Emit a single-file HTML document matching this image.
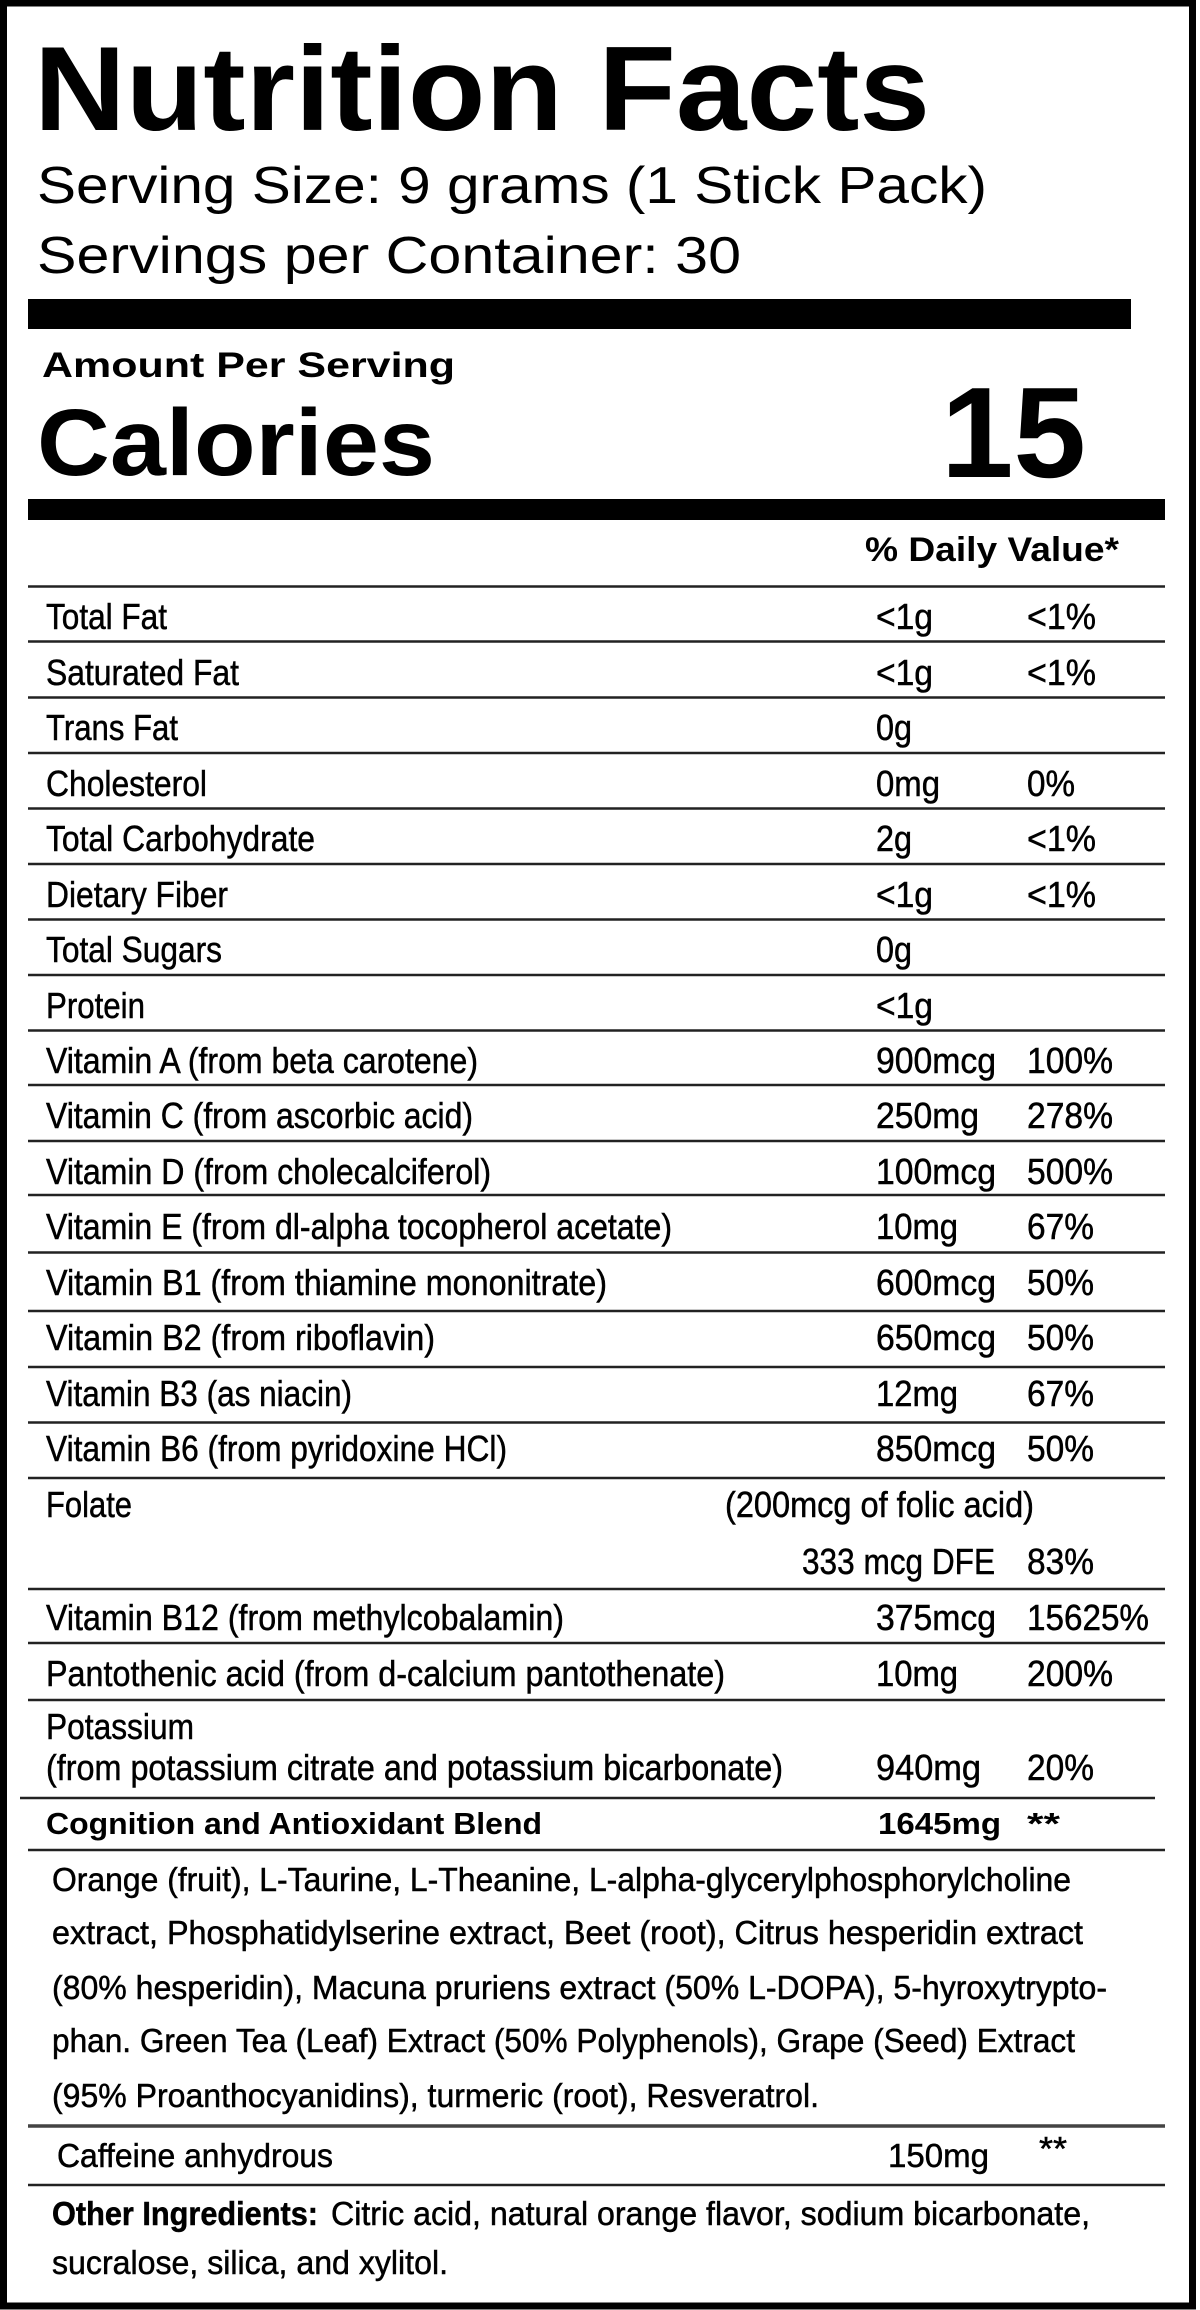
<!DOCTYPE html>
<html><head><meta charset="utf-8"><style>
html,body{margin:0;padding:0;background:#fff;}
svg{display:block;}
text{font-family:"Liberation Sans",Arial,sans-serif;fill:#000;}
.b{font-weight:bold;}
.r{font-size:36px;stroke:#000;stroke-width:0.5px;}
.i{font-size:33px;stroke:#000;stroke-width:0.5px;}
</style></head><body>
<svg width="1200" height="2310" viewBox="0 0 1200 2310" xmlns="http://www.w3.org/2000/svg">
<rect x="0" y="0" width="1200" height="2310" fill="#fff"/>
<rect x="3.5" y="3" width="1189" height="2303" fill="none" stroke="#000" stroke-width="7"/>

<text class="b" x="34" y="130" font-size="120" textLength="896" lengthAdjust="spacingAndGlyphs">Nutrition Facts</text>
<text x="37" y="203" font-size="52" textLength="950" lengthAdjust="spacingAndGlyphs">Serving Size: 9 grams (1 Stick Pack)</text>
<text x="37" y="273" font-size="52" textLength="704" lengthAdjust="spacingAndGlyphs">Servings per Container: 30</text>
<rect x="28" y="299" width="1103" height="30" fill="#000"/>
<text class="b" x="42" y="377" font-size="35" textLength="413" lengthAdjust="spacingAndGlyphs">Amount Per Serving</text>
<text class="b" x="37" y="475" font-size="95" textLength="398" lengthAdjust="spacingAndGlyphs">Calories</text>
<text class="b" x="941" y="477" font-size="129" textLength="145" lengthAdjust="spacingAndGlyphs">15</text>
<rect x="28" y="499" width="1137" height="21" fill="#000"/>
<text class="b" x="865" y="561" font-size="34" textLength="254" lengthAdjust="spacingAndGlyphs">% Daily Value*</text>

<g stroke="#222" stroke-width="2.5">
<line x1="28" y1="586.5" x2="1165" y2="586.5"/>
<line x1="28" y1="641.5" x2="1165" y2="641.5"/>
<line x1="28" y1="697.5" x2="1165" y2="697.5"/>
<line x1="28" y1="753" x2="1165" y2="753"/>
<line x1="28" y1="808.5" x2="1165" y2="808.5"/>
<line x1="28" y1="864" x2="1165" y2="864"/>
<line x1="28" y1="919.5" x2="1165" y2="919.5"/>
<line x1="28" y1="975" x2="1165" y2="975"/>
<line x1="28" y1="1030.5" x2="1165" y2="1030.5"/>
<line x1="28" y1="1085" x2="1165" y2="1085"/>
<line x1="28" y1="1141" x2="1165" y2="1141"/>
<line x1="28" y1="1195" x2="1165" y2="1195"/>
<line x1="28" y1="1252.5" x2="1165" y2="1252.5"/>
<line x1="28" y1="1311" x2="1165" y2="1311"/>
<line x1="28" y1="1367" x2="1165" y2="1367"/>
<line x1="28" y1="1422.5" x2="1165" y2="1422.5"/>
<line x1="28" y1="1478" x2="1165" y2="1478"/>
<line x1="28" y1="1589" x2="1165" y2="1589"/>
<line x1="28" y1="1643" x2="1165" y2="1643"/>
<line x1="28" y1="1700" x2="1165" y2="1700"/>
<line x1="20" y1="1798" x2="1155" y2="1798"/>
<line x1="28" y1="1850" x2="1165" y2="1850"/>
<line x1="28" y1="2126" x2="1165" y2="2126" stroke-width="3.5" stroke="#444"/>
<line x1="28" y1="2185" x2="1165" y2="2185"/>
</g>

<g class="r">
<text x="46" y="629" textLength="121" lengthAdjust="spacingAndGlyphs">Total Fat</text>
<text x="876" y="629" textLength="57" lengthAdjust="spacingAndGlyphs">&lt;1g</text>
<text x="1027" y="629" textLength="69" lengthAdjust="spacingAndGlyphs">&lt;1%</text>

<text x="46" y="685" textLength="193" lengthAdjust="spacingAndGlyphs">Saturated Fat</text>
<text x="876" y="685" textLength="57" lengthAdjust="spacingAndGlyphs">&lt;1g</text>
<text x="1027" y="685" textLength="69" lengthAdjust="spacingAndGlyphs">&lt;1%</text>

<text x="46" y="740" textLength="132" lengthAdjust="spacingAndGlyphs">Trans Fat</text>
<text x="876" y="740" textLength="36" lengthAdjust="spacingAndGlyphs">0g</text>

<text x="46" y="796" textLength="161" lengthAdjust="spacingAndGlyphs">Cholesterol</text>
<text x="876" y="796" textLength="64" lengthAdjust="spacingAndGlyphs">0mg</text>
<text x="1027" y="796" textLength="48" lengthAdjust="spacingAndGlyphs">0%</text>

<text x="46" y="851" textLength="269" lengthAdjust="spacingAndGlyphs">Total Carbohydrate</text>
<text x="876" y="851" textLength="36" lengthAdjust="spacingAndGlyphs">2g</text>
<text x="1027" y="851" textLength="69" lengthAdjust="spacingAndGlyphs">&lt;1%</text>

<text x="46" y="907" textLength="182" lengthAdjust="spacingAndGlyphs">Dietary Fiber</text>
<text x="876" y="907" textLength="57" lengthAdjust="spacingAndGlyphs">&lt;1g</text>
<text x="1027" y="907" textLength="69" lengthAdjust="spacingAndGlyphs">&lt;1%</text>

<text x="46" y="962" textLength="176" lengthAdjust="spacingAndGlyphs">Total Sugars</text>
<text x="876" y="962" textLength="36" lengthAdjust="spacingAndGlyphs">0g</text>

<text x="46" y="1018" textLength="99" lengthAdjust="spacingAndGlyphs">Protein</text>
<text x="876" y="1018" textLength="57" lengthAdjust="spacingAndGlyphs">&lt;1g</text>

<text x="46" y="1073" textLength="432" lengthAdjust="spacingAndGlyphs">Vitamin A (from beta carotene)</text>
<text x="876" y="1073" textLength="120" lengthAdjust="spacingAndGlyphs">900mcg</text>
<text x="1027" y="1073" textLength="86" lengthAdjust="spacingAndGlyphs">100%</text>

<text x="46" y="1128" textLength="427" lengthAdjust="spacingAndGlyphs">Vitamin C (from ascorbic acid)</text>
<text x="876" y="1128" textLength="103" lengthAdjust="spacingAndGlyphs">250mg</text>
<text x="1027" y="1128" textLength="86" lengthAdjust="spacingAndGlyphs">278%</text>

<text x="46" y="1184" textLength="445" lengthAdjust="spacingAndGlyphs">Vitamin D (from cholecalciferol)</text>
<text x="876" y="1184" textLength="120" lengthAdjust="spacingAndGlyphs">100mcg</text>
<text x="1027" y="1184" textLength="86" lengthAdjust="spacingAndGlyphs">500%</text>

<text x="46" y="1239" textLength="626" lengthAdjust="spacingAndGlyphs">Vitamin E (from dl-alpha tocopherol acetate)</text>
<text x="876" y="1239" textLength="82" lengthAdjust="spacingAndGlyphs">10mg</text>
<text x="1027" y="1239" textLength="67" lengthAdjust="spacingAndGlyphs">67%</text>

<text x="46" y="1295" textLength="561" lengthAdjust="spacingAndGlyphs">Vitamin B1 (from thiamine mononitrate)</text>
<text x="876" y="1295" textLength="120" lengthAdjust="spacingAndGlyphs">600mcg</text>
<text x="1027" y="1295" textLength="67" lengthAdjust="spacingAndGlyphs">50%</text>

<text x="46" y="1350" textLength="389" lengthAdjust="spacingAndGlyphs">Vitamin B2 (from riboflavin)</text>
<text x="876" y="1350" textLength="120" lengthAdjust="spacingAndGlyphs">650mcg</text>
<text x="1027" y="1350" textLength="67" lengthAdjust="spacingAndGlyphs">50%</text>

<text x="46" y="1406" textLength="306" lengthAdjust="spacingAndGlyphs">Vitamin B3 (as niacin)</text>
<text x="876" y="1406" textLength="82" lengthAdjust="spacingAndGlyphs">12mg</text>
<text x="1027" y="1406" textLength="67" lengthAdjust="spacingAndGlyphs">67%</text>

<text x="46" y="1461" textLength="461" lengthAdjust="spacingAndGlyphs">Vitamin B6 (from pyridoxine HCl)</text>
<text x="876" y="1461" textLength="120" lengthAdjust="spacingAndGlyphs">850mcg</text>
<text x="1027" y="1461" textLength="67" lengthAdjust="spacingAndGlyphs">50%</text>

<text x="46" y="1517" textLength="86" lengthAdjust="spacingAndGlyphs">Folate</text>
<text x="725" y="1517" textLength="309" lengthAdjust="spacingAndGlyphs">(200mcg of folic acid)</text>
<text x="802" y="1574" textLength="193" lengthAdjust="spacingAndGlyphs">333 mcg DFE</text>
<text x="1027" y="1574" textLength="67" lengthAdjust="spacingAndGlyphs">83%</text>

<text x="46" y="1630" textLength="518" lengthAdjust="spacingAndGlyphs">Vitamin B12 (from methylcobalamin)</text>
<text x="876" y="1630" textLength="120" lengthAdjust="spacingAndGlyphs">375mcg</text>
<text x="1027" y="1630" textLength="122" lengthAdjust="spacingAndGlyphs">15625%</text>

<text x="46" y="1686" textLength="679" lengthAdjust="spacingAndGlyphs">Pantothenic acid (from d-calcium pantothenate)</text>
<text x="876" y="1686" textLength="82" lengthAdjust="spacingAndGlyphs">10mg</text>
<text x="1027" y="1686" textLength="86" lengthAdjust="spacingAndGlyphs">200%</text>

<text x="46" y="1739" textLength="148" lengthAdjust="spacingAndGlyphs">Potassium</text>
<text x="46" y="1780" textLength="737" lengthAdjust="spacingAndGlyphs">(from potassium citrate and potassium bicarbonate)</text>
<text x="876" y="1780" textLength="105" lengthAdjust="spacingAndGlyphs">940mg</text>
<text x="1027" y="1780" textLength="67" lengthAdjust="spacingAndGlyphs">20%</text>
</g>

<text class="b" x="46" y="1834" font-size="31" textLength="496" lengthAdjust="spacingAndGlyphs">Cognition and Antioxidant Blend</text>
<text class="b" x="878" y="1834" font-size="31" textLength="123" lengthAdjust="spacingAndGlyphs">1645mg</text>
<text class="b" x="1027" y="1834" font-size="31" textLength="33" lengthAdjust="spacingAndGlyphs">**</text>

<g class="i">
<text x="52" y="1891" textLength="1019" lengthAdjust="spacingAndGlyphs">Orange (fruit), L-Taurine, L-Theanine, L-alpha-glycerylphosphorylcholine</text>
<text x="52" y="1944" textLength="1031" lengthAdjust="spacingAndGlyphs">extract, Phosphatidylserine extract, Beet (root), Citrus hesperidin extract</text>
<text x="52" y="1999" textLength="1055" lengthAdjust="spacingAndGlyphs">(80% hesperidin), Macuna pruriens extract (50% L-DOPA), 5-hyroxytrypto-</text>
<text x="52" y="2052" textLength="1023" lengthAdjust="spacingAndGlyphs">phan. Green Tea (Leaf) Extract (50% Polyphenols), Grape (Seed) Extract</text>
<text x="52" y="2107" textLength="767" lengthAdjust="spacingAndGlyphs">(95% Proanthocyanidins), turmeric (root), Resveratrol.</text>

<text x="57" y="2167" textLength="276" lengthAdjust="spacingAndGlyphs">Caffeine anhydrous</text>
<text x="888" y="2167" textLength="101" lengthAdjust="spacingAndGlyphs">150mg</text>
<text x="1039" y="2160" textLength="28" lengthAdjust="spacingAndGlyphs">**</text>

<text class="b" x="52" y="2225" textLength="266" lengthAdjust="spacingAndGlyphs">Other Ingredients:</text>
<text x="331" y="2225" textLength="759" lengthAdjust="spacingAndGlyphs">Citric acid, natural orange flavor, sodium bicarbonate,</text>
<text x="52" y="2274" textLength="396" lengthAdjust="spacingAndGlyphs">sucralose, silica, and xylitol.</text>
</g>
</svg>
</body></html>
